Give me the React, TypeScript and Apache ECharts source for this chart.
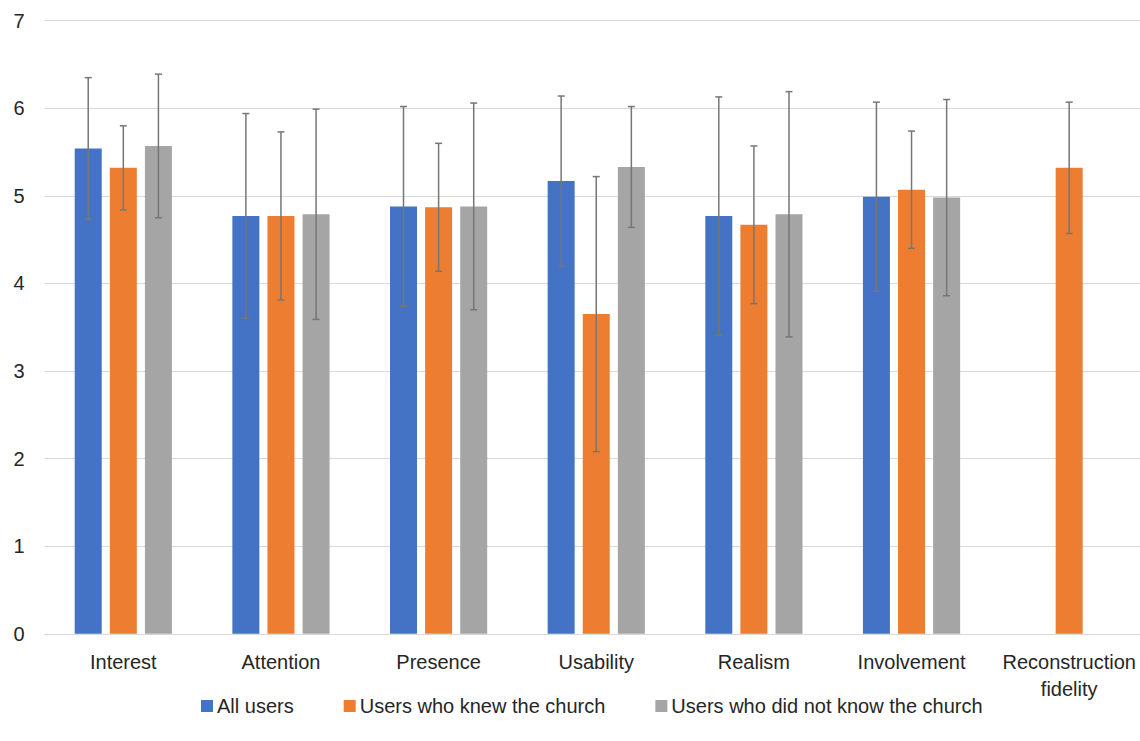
import React, { useEffect, useRef } from "react";
import * as echarts from "echarts";

const categories = [
  "Interest",
  "Attention",
  "Presence",
  "Usability",
  "Realism",
  "Involvement",
  "Reconstruction\nfidelity",
];
const seriesNames = [
  "All users",
  "Users who knew the church",
  "Users who did not know the church",
];
const allUsersMean = [5.54, 4.77, 4.88, 5.17, 4.77, 4.99, null];
const allUsersSd = [0.81, 1.17, 1.14, 0.97, 1.36, 1.08, null];
const knewMean = [5.32, 4.77, 4.87, 3.65, 4.67, 5.07, 5.32];
const knewSd = [0.48, 0.96, 0.73, 1.57, 0.9, 0.67, 0.75];
const notKnewMean = [5.57, 4.79, 4.88, 5.33, 4.79, 4.98, null];
const notKnewSd = [0.82, 1.2, 1.18, 0.69, 1.4, 1.12, null];
const yTicks = [0, 1, 2, 3, 4, 5, 6, 7];

const colors = ["#4472C4", "#ED7D31", "#A5A5A5"];
const FONT = "'Liberation Sans', Arial, sans-serif";
const TEXT = "#262626";

export default function App() {
  const ref = useRef<HTMLDivElement>(null);
  useEffect(() => {
    if (!ref.current) return;
    const chart = echarts.init(ref.current, undefined, { renderer: "svg" });
    const means = [allUsersMean, knewMean, notKnewMean];
    const sds = [allUsersSd, knewSd, notKnewSd];
    const barWidth = 27;
    const step = barWidth * 1.3;

    const barSeries = means.map((m, i) => ({
      name: seriesNames[i],
      type: "bar",
      barWidth,
      barGap: "30%",
      itemStyle: { color: colors[i] },
      data: m.map((v) => (v == null ? "-" : v)),
      z: 2,
    }));

    const errSeries = means.map((m, i) => {
      const data: number[][] = [];
      m.forEach((v, k) => {
        const s = sds[i][k];
        if (v != null && s != null) data.push([k, v - s, v + s]);
      });
      const offset = (i - 1) * step;
      return {
        name: "err" + i,
        type: "custom",
        z: 5,
        silent: true,
        data,
        encode: { x: 0, y: [1, 2] },
        renderItem: (params: any, api: any) => {
          const x = api.value(0);
          const lo = api.value(1);
          const hi = api.value(2);
          const p1 = api.coord([x, hi]);
          const p2 = api.coord([x, lo]);
          const cx = p1[0] + offset;
          const style = { stroke: "#767676", lineWidth: 1.5 };
          const cap = 3.5;
          return {
            type: "group",
            children: [
              { type: "line", shape: { x1: cx, y1: p1[1], x2: cx, y2: p2[1] }, style },
              { type: "line", shape: { x1: cx - cap, y1: p1[1], x2: cx + cap, y2: p1[1] }, style },
              { type: "line", shape: { x1: cx - cap, y1: p2[1], x2: cx + cap, y2: p2[1] }, style },
            ],
          };
        },
      };
    });

    chart.setOption({
      animation: false,
      backgroundColor: "#ffffff",
      grid: { left: 44.5, right: 0, top: 20.7, bottom: 107.2 },
      legend: {
        data: seriesNames,
        left: 196,
        top: 691,
        itemWidth: 12,
        itemHeight: 12,
        itemGap: 50,
        icon: "rect",
        textStyle: { fontFamily: FONT, fontSize: 20, color: TEXT, padding: [0, 0, 0, -1] },
      },
      xAxis: {
        type: "category",
        data: categories,
        axisLine: { lineStyle: { color: "#d9d9d9", width: 1 } },
        axisTick: { show: false },
        axisLabel: {
          fontFamily: FONT,
          fontSize: 20,
          color: TEXT,
          margin: 15,
          lineHeight: 27,
          interval: 0,
        },
      },
      yAxis: {
        type: "value",
        min: yTicks[0],
        max: yTicks[yTicks.length - 1],
        interval: 1,
        axisLine: { show: false },
        axisTick: { show: false },
        splitLine: { lineStyle: { color: "#d9d9d9", width: 1 } },
        axisLabel: {
          fontFamily: FONT,
          fontSize: 20,
          color: TEXT,
          margin: 20,
        },
      },
      series: [...barSeries, ...errSeries],
    });
    return () => chart.dispose();
  }, []);

  return (
    <div
      style={{
        position: "fixed",
        left: 0,
        top: 0,
        width: 1140,
        height: 741,
        overflow: "hidden",
        background: "#fff",
      }}
    >
      <div ref={ref} style={{ width: 1148, height: 741 }} />
    </div>
  );
}
